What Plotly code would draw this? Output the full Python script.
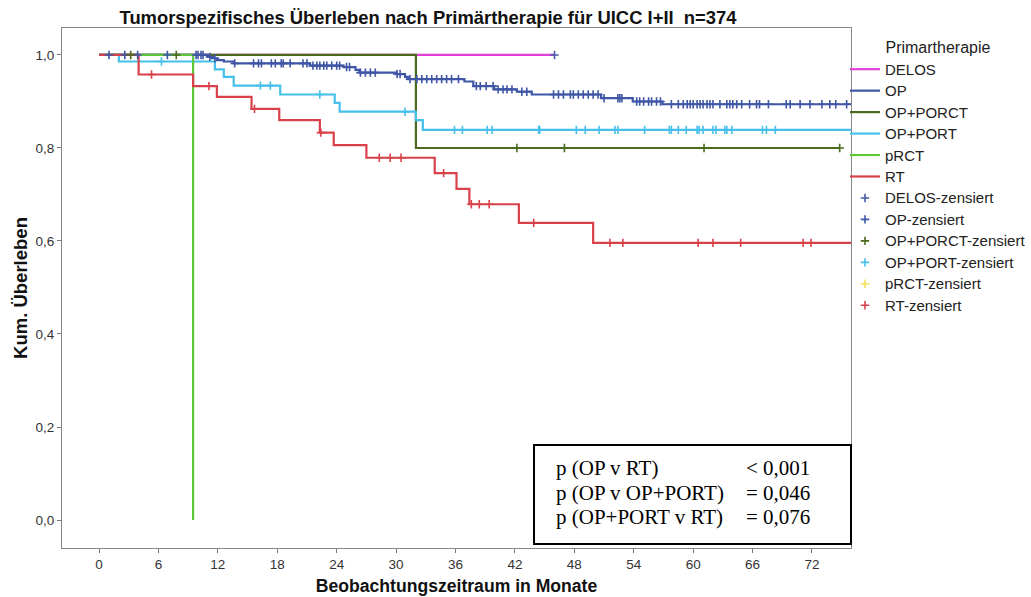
import numpy as np
import plotly.graph_objects as go

# ---------------- data ----------------
groups = ["DELOS", "OP", "OP+PORCT", "OP+PORT", "pRCT", "RT"]

# event times (months) and survival after each event
delos_t = []
delos_s = []
delos_cens = [46.0]
delos_end = 46.0

op_t = [11.0, 11.4, 11.9, 12.6, 13.6, 21.3, 24.7, 25.9, 26.3, 30.0, 30.9, 31.2,
        36.9, 37.8, 39.9, 42.2, 43.7, 50.7, 53.9, 56.9]
op_s = [0.996, 0.993, 0.989, 0.986, 0.982, 0.977, 0.974, 0.968, 0.962, 0.959, 0.953,
        0.948, 0.943, 0.933, 0.926, 0.921, 0.915, 0.907, 0.900, 0.894]
op_cens = [1.0, 2.6, 3.9, 6.9, 9.8, 10.0, 10.3, 10.5, 11.2, 11.7, 13.7, 15.6, 16.1,
           16.4, 17.4, 17.8, 18.4, 18.6, 19.3, 20.6, 21.0, 21.6, 22.0, 22.3, 22.7,
           23.0, 23.5, 24.0, 24.3, 25.0, 25.3, 26.4, 26.9, 27.4, 27.9, 30.1, 30.4,
           31.4, 32.1, 32.6, 33.1, 33.6, 34.1, 34.6, 35.1, 35.6, 36.3, 38.1, 38.5,
           39.1, 39.8, 40.3, 40.8, 41.2, 41.7, 42.7, 43.2, 45.9, 46.4, 46.9, 47.6,
           47.9, 48.4, 48.9, 49.4, 49.9, 50.4, 51.0, 52.4, 52.6, 52.8, 54.3, 54.6,
           55.0, 55.5, 55.8, 56.3, 56.7, 57.8, 58.5, 59.0, 59.4, 59.7, 60.0, 60.4,
           60.7, 61.0, 61.4, 61.7, 62.0, 62.7, 63.4, 63.7, 64.0, 64.4, 64.9, 65.7,
           66.4, 66.7, 67.6, 69.4, 69.8, 70.8, 71.8, 73.0, 73.8, 74.4, 75.5]
op_end = 78.0

porct_t = [32.0]
porct_s = [0.80]
porct_cens = [3.2, 7.8, 42.2, 47.0, 61.1, 74.8]
porct_end = 74.8

port_t = [2.0, 11.7, 12.6, 13.6, 18.3, 23.8, 24.3, 32.0, 32.7]
port_s = [0.986, 0.969, 0.953, 0.934, 0.915, 0.897, 0.878, 0.860, 0.839]
port_cens = [6.3, 16.3, 17.3, 22.3, 30.9, 35.9, 36.7, 39.2, 39.7, 44.4, 44.5, 48.2,
             49.1, 50.5, 52.1, 52.4, 55.1, 57.6, 57.8, 58.5, 59.3, 60.4, 60.6, 61.0,
             62.0, 62.3, 63.2, 63.4, 63.9, 67.0, 67.4, 68.3]
port_end = 78.0

prct_t = [9.5]
prct_s = [0.0]
prct_cens = []
prct_end = 9.5

rt_t = [4.0, 9.5, 11.9, 15.4, 18.2, 22.3, 23.7, 27.0, 33.9, 36.1, 37.4, 42.4, 49.9]
rt_s = [0.958, 0.933, 0.910, 0.884, 0.860, 0.833, 0.806, 0.779, 0.746, 0.712,
        0.679, 0.639, 0.596]
rt_cens = [5.3, 11.1, 15.7, 22.4, 28.3, 29.4, 30.5, 34.8, 37.6, 38.4, 39.4, 43.9,
           51.6, 52.9, 60.5, 62.0, 64.8, 71.1, 71.9]
rt_end = 78.0

p_labels = ["p (OP v RT)", "p (OP v OP+PORT)", "p (OP+PORT v RT)"]
p_values = ["< 0,001", "= 0,046", "= 0,076"]

x_ticks = list(range(0, 73, 6))
y_ticks = [0.0, 0.2, 0.4, 0.6, 0.8, 1.0]

# ---------------- styling ----------------
line_colors = {"DELOS": "#E040D8", "OP": "#3F56A6", "OP+PORCT": "#4B6A1E",
               "OP+PORT": "#45C0EA", "pRCT": "#5CC83A", "RT": "#D9414A"}
cens_colors = {"DELOS": "#4A5AA8", "OP": "#3F56A6", "OP+PORCT": "#4B6A1E",
               "OP+PORT": "#45C0EA", "pRCT": "#F2E35E", "RT": "#D9414A"}
SANS = "Liberation Sans, Arial, sans-serif"
SERIF = "Liberation Serif, Times New Roman, serif"
W, H = 1031, 597
ML, MR, MT, MB = 62, 180, 28, 49
PW, PH = W - ML - MR, H - MT - MB

data = {
    "DELOS": (delos_t, delos_s, delos_cens, delos_end),
    "OP": (op_t, op_s, op_cens, op_end),
    "OP+PORCT": (porct_t, porct_s, porct_cens, porct_end),
    "OP+PORT": (port_t, port_s, port_cens, port_end),
    "pRCT": (prct_t, prct_s, prct_cens, prct_end),
    "RT": (rt_t, rt_s, rt_cens, rt_end),
}


def step_xy(t, s, end):
    x = [0.0] + list(t) + [end]
    last = s[-1] if s else 1.0
    y = [1.0] + list(s) + [last]
    return x, y


def surv_at(t, s, c):
    idx = np.searchsorted(np.asarray(t, dtype=float), np.asarray(c, dtype=float), side="right")
    full = np.concatenate([[1.0], np.asarray(s, dtype=float)])
    return full[idx].tolist()


def legend_name(txt):
    return '<span style="font-size:15px">' + txt + "</span>"


fig = go.Figure()

draw_order = ["DELOS", "OP+PORCT", "OP", "OP+PORT", "pRCT", "RT"]
for g in draw_order:
    t, s, c, end = data[g]
    x, y = step_xy(t, s, end)
    fig.add_trace(go.Scatter(
        x=x, y=y, mode="lines", name=legend_name(g),
        line=dict(color=line_colors[g], width=2.2, shape="hv"),
        legendrank=groups.index(g) + 1, hoverinfo="skip"))

for g in groups:
    t, s, c, end = data[g]
    if c:
        cx, cy = list(c), surv_at(t, s, c)
    else:  # no censored cases in this group: keep the legend entry
        cx, cy = [None], [None]
    fig.add_trace(go.Scatter(
        x=cx, y=cy, mode="markers", name=legend_name(g + "-zensiert"),
        marker=dict(symbol="cross-thin", size=6, line=dict(color=cens_colors[g], width=1.6)),
        legendrank=7 + groups.index(g), hoverinfo="skip"))


def px_x(px):
    return (px - ML) / PW


def px_y(py):
    return (H - MB - py) / PH


# p-value box
fig.add_shape(type="rect", xref="paper", yref="paper", x0=px_x(534), x1=px_x(851),
              y0=px_y(544), y1=px_y(445),
              line=dict(color="black", width=2), fillcolor="white", layer="above")
for lab, val, yy in zip(p_labels, p_values, [468, 493, 517]):
    fig.add_annotation(xref="paper", yref="paper", x=px_x(554), y=px_y(yy), xanchor="left",
                       yanchor="middle", text=lab, showarrow=False,
                       font=dict(family=SERIF, size=21, color="black"))
    fig.add_annotation(xref="paper", yref="paper", x=px_x(812), y=px_y(yy), xanchor="right",
                       yanchor="middle", text=val, showarrow=False,
                       font=dict(family=SERIF, size=21, color="black"))

fig.update_layout(
    width=W, height=H,
    margin=dict(l=ML, r=MR, t=MT, b=MB, autoexpand=False),
    paper_bgcolor="white", plot_bgcolor="white",
    separators=",.",
    title=dict(text="<b>Tumorspezifisches Überleben nach Primärtherapie für UICC I+II  n=374</b>",
               x=428 / W, xanchor="center", y=1 - 18 / H, yanchor="middle", yref="container",
               font=dict(family=SANS, size=18.4, color="#111")),
    legend=dict(title=dict(text='<span style="font-size:16px">Primartherapie</span>',
                           side="top center",
                           font=dict(family=SANS, size=14.2, color="#222")),
                xref="container", yref="container",
                x=845 / W, xanchor="left", y=1 - 35 / H, yanchor="top",
                font=dict(family=SANS, size=14.2, color="#222"),
                bgcolor="rgba(0,0,0,0)", itemwidth=30, tracegroupgap=0),
    showlegend=True,
)

fig.update_xaxes(range=[-3.74, 75.94], tickvals=x_ticks, ticks="outside", ticklen=4,
                 tickcolor="#777", showline=True, linecolor="#888", linewidth=1.2, mirror=True,
                 showgrid=False, zeroline=False, automargin=False,
                 tickfont=dict(family=SANS, size=13.5, color="#333"),
                 title=dict(text="<b>Beobachtungszeitraum in Monate</b>", standoff=8,
                            font=dict(family=SANS, size=17.6, color="#111")))
fig.update_yaxes(range=[-0.0602, 1.058], tickvals=y_ticks, tickformat=".1f", ticks="outside",
                 ticklen=4, tickcolor="#777", showline=True, linecolor="#888", linewidth=1.2,
                 mirror=True, showgrid=False, zeroline=False, automargin=False,
                 tickfont=dict(family=SANS, size=13.5, color="#333"),
                 title=dict(text="<b>Kum. Überleben</b>", standoff=2,
                            font=dict(family=SANS, size=18.5, color="#111")))

fig.write_html("out.html", config={"displayModeBar": False},
               post_script="document.body.style.margin='0';")
